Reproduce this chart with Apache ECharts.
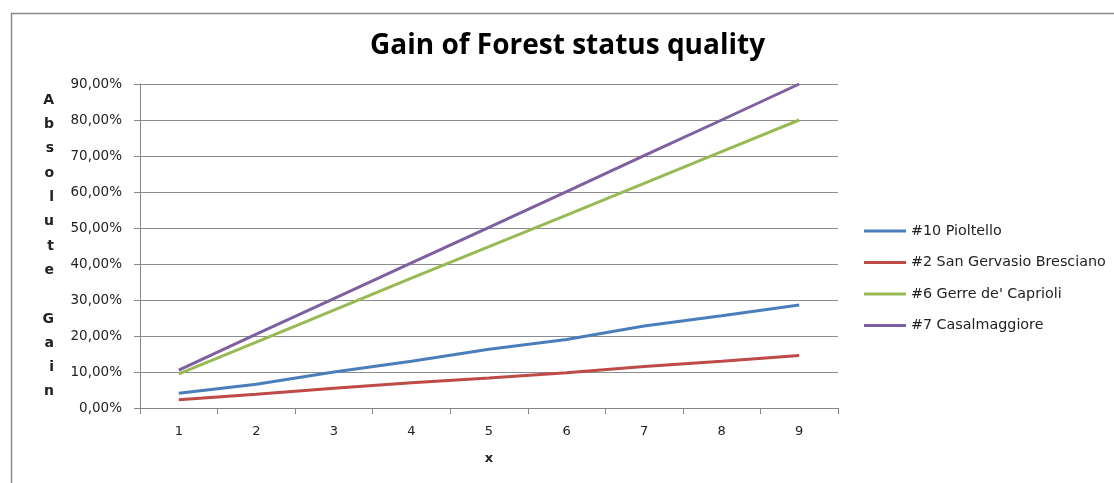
<!DOCTYPE html>
<html><head><meta charset="utf-8">
<script src="https://cdn.jsdelivr.net/npm/echarts@6/dist/echarts.min.js"></script>
<style>html,body{margin:0;padding:0;background:#fff}#c{width:1114px;height:483px}</style>
</head><body><div id="c"></div>
<script>
const categories = ['1','2','3','4','5','6','7','8','9'];
const pioltello = [4.1, 6.6, 10.0, 13.0, 16.3, 19.0, 22.8, 25.6, 28.6];
const sanGervasio = [2.3, 3.8, 5.5, 7.0, 8.3, 9.8, 11.5, 13.0, 14.6];
const gerre = [9.5, 18.3, 27.2, 36.1, 44.8, 53.6, 62.4, 71.2, 80.0];
const casalmaggiore = [10.5, 20.5, 30.4, 40.3, 50.2, 60.1, 70.1, 80.0, 90.0];
const seriesNames = ['#10 Pioltello', '#2 San Gervasio Bresciano', "#6 Gerre de' Caprioli", '#7 Casalmaggiore'];
const colors = ['#4A7EBB', '#BE4B48', '#98B954', '#7D60A0'];

const chart = echarts.init(document.getElementById('c'), null, {renderer:'canvas'});
const fontFam = '"DejaVu Sans", "Open Sans", sans-serif';
const data = [pioltello, sanGervasio, gerre, casalmaggiore];
chart.setOption({
  animation: false,
  backgroundColor: '#fff',
  title: {
    text: 'Gain of Forest status quality',
    left: 365, top: 27,
    textStyle: {fontFamily: '"Open Sans", sans-serif', fontSize: 28, fontWeight: 'bold', color: '#000'}
  },
  graphic: [{
    type: 'rect', left: 9, top: 11, shape: {width: 1200, height: 600},
    style: {fill: 'none', stroke: '#8a8a8a', lineWidth: 1.5}, silent: true
  }],
  legend: {
    orient: 'vertical', left: 859, top: 219,
    itemWidth: 42, itemHeight: 3, itemGap: 17.5, icon: 'rect',
    data: seriesNames,
    textStyle: {fontFamily: fontFam, fontSize: 14.3, color: '#222'}
  },
  grid: {left: 140, right: 276, top: 84, bottom: 75},
  xAxis: {
    type: 'category', data: categories, boundaryGap: true,
    name: 'x', nameLocation: 'middle', nameGap: 44,
    nameTextStyle: {fontFamily: fontFam, fontSize: 13, fontWeight: 'bold', color: '#222'},
    axisLine: {lineStyle: {color: '#868686', width: 1}},
    axisTick: {show: true, alignWithLabel: false, length: 6, lineStyle: {color: '#868686'}},
    axisLabel: {fontFamily: fontFam, fontSize: 13, color: '#222', margin: 17}
  },
  yAxis: {
    type: 'value', min: 0, max: 90, interval: 10,
    name: 'A\nb\ns\no\nl\nu\nt\ne\n\nG\na\ni\nn', nameLocation: 'middle', nameRotate: 0, nameGap: 86,
    nameTextStyle: {fontFamily: fontFam, fontSize: 14, fontWeight: 'bold', color: '#222', lineHeight: 24.3},
    axisLine: {show: true, lineStyle: {color: '#868686', width: 1}},
    axisTick: {show: true, length: 6, lineStyle: {color: '#868686'}},
    splitLine: {lineStyle: {color: '#8c8c8c', width: 1}},
    axisLabel: {fontFamily: fontFam, fontSize: 13.5, color: '#222', margin: 18,
      formatter: v => v.toFixed(2).replace('.', ',') + '%'}
  },
  series: seriesNames.map((n, i) => ({
    name: n, type: 'line', data: data[i], symbol: 'none', smooth: false,
    lineStyle: {color: colors[i], width: 3}, itemStyle: {color: colors[i]}
  }))
});
</script></body></html>
